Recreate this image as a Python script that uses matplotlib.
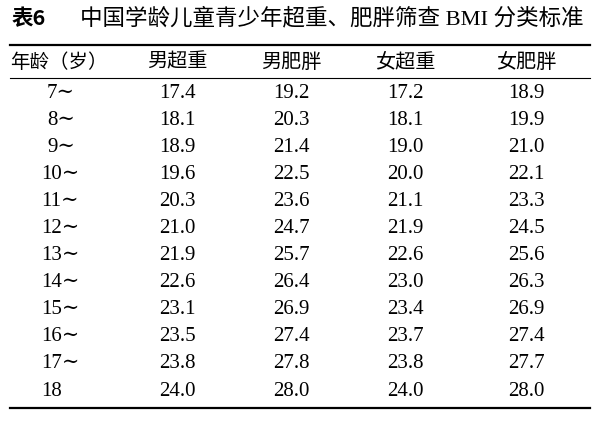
import matplotlib
matplotlib.use('Agg')
import matplotlib.pyplot as plt

plt.rcParams['font.family'] = ['Liberation Serif', 'Noto Sans CJK SC', 'DejaVu Sans']

title_no = '表6'
title = '中国学龄儿童青少年超重、肥胖筛查 BMI 分类标准'
headers = ['年龄（岁）', '男超重', '男肥胖', '女超重', '女肥胖']
ages = ['7∼', '8∼', '9∼', '10∼', '11∼', '12∼', '13∼', '14∼', '15∼', '16∼', '17∼', '18']
boy_over = [17.4, 18.1, 18.9, 19.6, 20.3, 21.0, 21.9, 22.6, 23.1, 23.5, 23.8, 24.0]
boy_obese = [19.2, 20.3, 21.4, 22.5, 23.6, 24.7, 25.7, 26.4, 26.9, 27.4, 27.8, 28.0]
girl_over = [17.2, 18.1, 19.0, 20.0, 21.1, 21.9, 22.6, 23.0, 23.4, 23.7, 23.8, 24.0]
girl_obese = [18.9, 19.9, 21.0, 22.1, 23.3, 24.5, 25.6, 26.3, 26.9, 27.4, 27.7, 28.0]

fig = plt.figure(figsize=(6, 4.24), dpi=100)
ax = fig.add_axes([0, 0, 1, 1])
ax.set_xlim(0, 600)
ax.set_ylim(424, 0)
ax.axis('off')

cjk = ['Noto Sans CJK SC', 'DejaVu Sans']
mixed = ['Liberation Serif', 'Noto Sans CJK SC']

# title
ax.text(12, 19, title_no, fontsize=15.5, fontweight='bold', family=cjk, va='center', ha='left')
ax.text(80, 19, title, fontsize=16.2, family=mixed, va='center', ha='left')

# rules
ax.plot([10, 590], [45, 45], color='black', lw=1.6)
ax.plot([10, 590], [78, 78], color='black', lw=0.8)
ax.plot([10, 590], [408, 408], color='black', lw=1.6)

col_x = [57, 177, 291, 405, 526]
ax.text(59, 62, headers[0], fontsize=14, family=cjk, ha='center', va='center')
for x, h in zip(col_x[1:], headers[1:]):
    ax.text(x, 62, h, fontsize=14.5, family=cjk, ha='center', va='center')

row0, step = 93, 27.1
for i, age in enumerate(ages):
    y = row0 + i * step
    x0 = 47 if len(age.rstrip('∼')) == 1 else 41
    ax.text(x0, y, age, fontsize=15, family=['Liberation Serif', 'DejaVu Serif'], ha='left', va='center')
    for x, col in zip(col_x[1:], [boy_over, boy_obese, girl_over, girl_obese]):
        ax.text(x, y, f'{col[i]:.1f}', fontsize=15, ha='center', va='center')

fig.savefig('out.png', dpi=100)
